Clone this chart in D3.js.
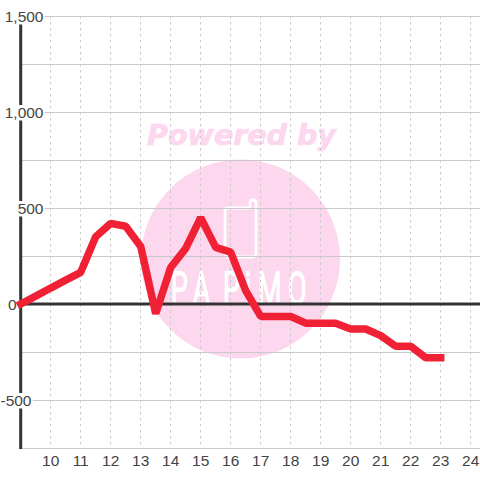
<!DOCTYPE html>
<html><head><meta charset="utf-8">
<script src="https://cdn.jsdelivr.net/npm/d3@7"></script>
<style>html,body{margin:0;padding:0;background:#fff}svg{display:block}</style></head>
<body><svg id="c" width="480" height="480"></svg>
<script>
const hours=[9,9.5,10,10.5,11,11.5,12,12.5,13,13.5,14,14.5,15,15.5,16,16.5,17,17.5,18,18.5,19,19.5,20,20.5,21,21.5,22,22.5,23];
const values=[0,41,83,124,165,350,420,405,300,-50,190,290,450,295,270,70,-65,-65,-65,-100,-100,-100,-130,-130,-165,-220,-220,-280,-280];
const xTicks=[10,11,12,13,14,15,16,17,18,19,20,21,22,23,24];
const yLabelled=[1500,1000,500,0,-500];
const yLabelTexts=['1,500','1,000','500','0','-500'];
const yLabelRight=[43.5,43.5,43.5,16.5,31.5];
const yGrid=[1500,1250,1000,750,500,250,-250,-500,-750];
const logoLetters=['P','A','P','i','M','O'];
const logoX=[171,193,223,245,258,288];
const svg=d3.select('#c');
const x=d3.scaleLinear().domain([9,24]).range([20.7,470.7]);
const y=d3.scaleLinear().domain([-750,1500]).range([448,16]);
const font='"Liberation Sans",Arial,sans-serif';
const pink='#fcd7ee';
// watermark
svg.append('circle').attr('cx',240.5).attr('cy',259).attr('r',99.5).attr('fill',pink);
svg.append('text').attr('x',241.5).attr('y',144.5).attr('text-anchor','middle')
 .attr('font-family','"DejaVu Sans"').attr('font-weight','bold').attr('font-style','italic')
 .attr('font-size',28.5).attr('fill',pink).attr('stroke',pink).attr('stroke-width',.7).text('Powered by');
svg.append('path').attr('d','M228 208H250V202Q250 200 253 200Q256 200 256 203V253Q256 257 252 257H229Q225 257 225 253V211Q225 208 228 208')
 .attr('fill','none').attr('stroke','#fff').attr('stroke-width',2.8);
const sx=.6;
svg.append('g').attr('transform',`scale(${sx},1)`).selectAll('text').data(logoLetters).join('text')
 .attr('x',(d,i)=>logoX[i]/sx).attr('y',304)
 .attr('font-family','Roboto').attr('font-weight',300).attr('font-size',45).attr('fill','#fff')
 .attr('stroke','#fff').attr('stroke-width',2.4).text(d=>d);
// grid
svg.append('g').selectAll('line').data(yGrid).join('line')
 .attr('x1',x(9)).attr('x2',480).attr('y1',d=>Math.round(y(d))+.5).attr('y2',d=>Math.round(y(d))+.5)
 .attr('stroke','#c9c9c9').attr('stroke-width',1);
svg.append('g').selectAll('line').data(xTicks).join('line')
 .attr('x1',d=>Math.round(x(d))-.5).attr('x2',d=>Math.round(x(d))-.5).attr('y1',16).attr('y2',448)
 .attr('stroke','#c9c9c9').attr('stroke-width',1).attr('stroke-dasharray','2.5 3.5');
// axes
svg.append('line').attr('x1',x(9)-1.5).attr('x2',480).attr('y1',y(0)).attr('y2',y(0)).attr('stroke','#333').attr('stroke-width',3);
svg.append('line').attr('x1',x(9)).attr('x2',x(9)).attr('y1',16).attr('y2',449).attr('stroke','#333').attr('stroke-width',3);
// y labels with halo
const yl=svg.append('g');
yLabelled.forEach((v,i)=>{
 const t=yl.append('text').attr('x',yLabelRight[i]).attr('y',y(v)+5.5).attr('text-anchor','end').attr('font-family',font)
  .attr('font-size',15.5).attr('fill','#444').text(yLabelTexts[i]);
 if(v!==0){
  const b=t.node().getBBox();
  yl.insert('rect','text').attr('x',b.x-1).attr('y',b.y+1.5).attr('width',b.width+2).attr('height',b.height-1.5).attr('fill','#fff');
 }
});
// x labels
svg.append('g').selectAll('text').data(xTicks).join('text')
 .attr('x',d=>x(d)).attr('y',466).attr('text-anchor','middle').attr('font-family',font)
 .attr('font-size',15.5).attr('fill','#444').text(d=>d);
// line
const line=d3.line().x((d,i)=>x(hours[i])).y(d=>y(d));
svg.append('path').datum(values).attr('d',line).attr('fill','none').attr('stroke','#f02035')
 .attr('stroke-width',7.5).attr('stroke-linejoin','bevel').attr('stroke-linecap','square');
</script></body></html>
